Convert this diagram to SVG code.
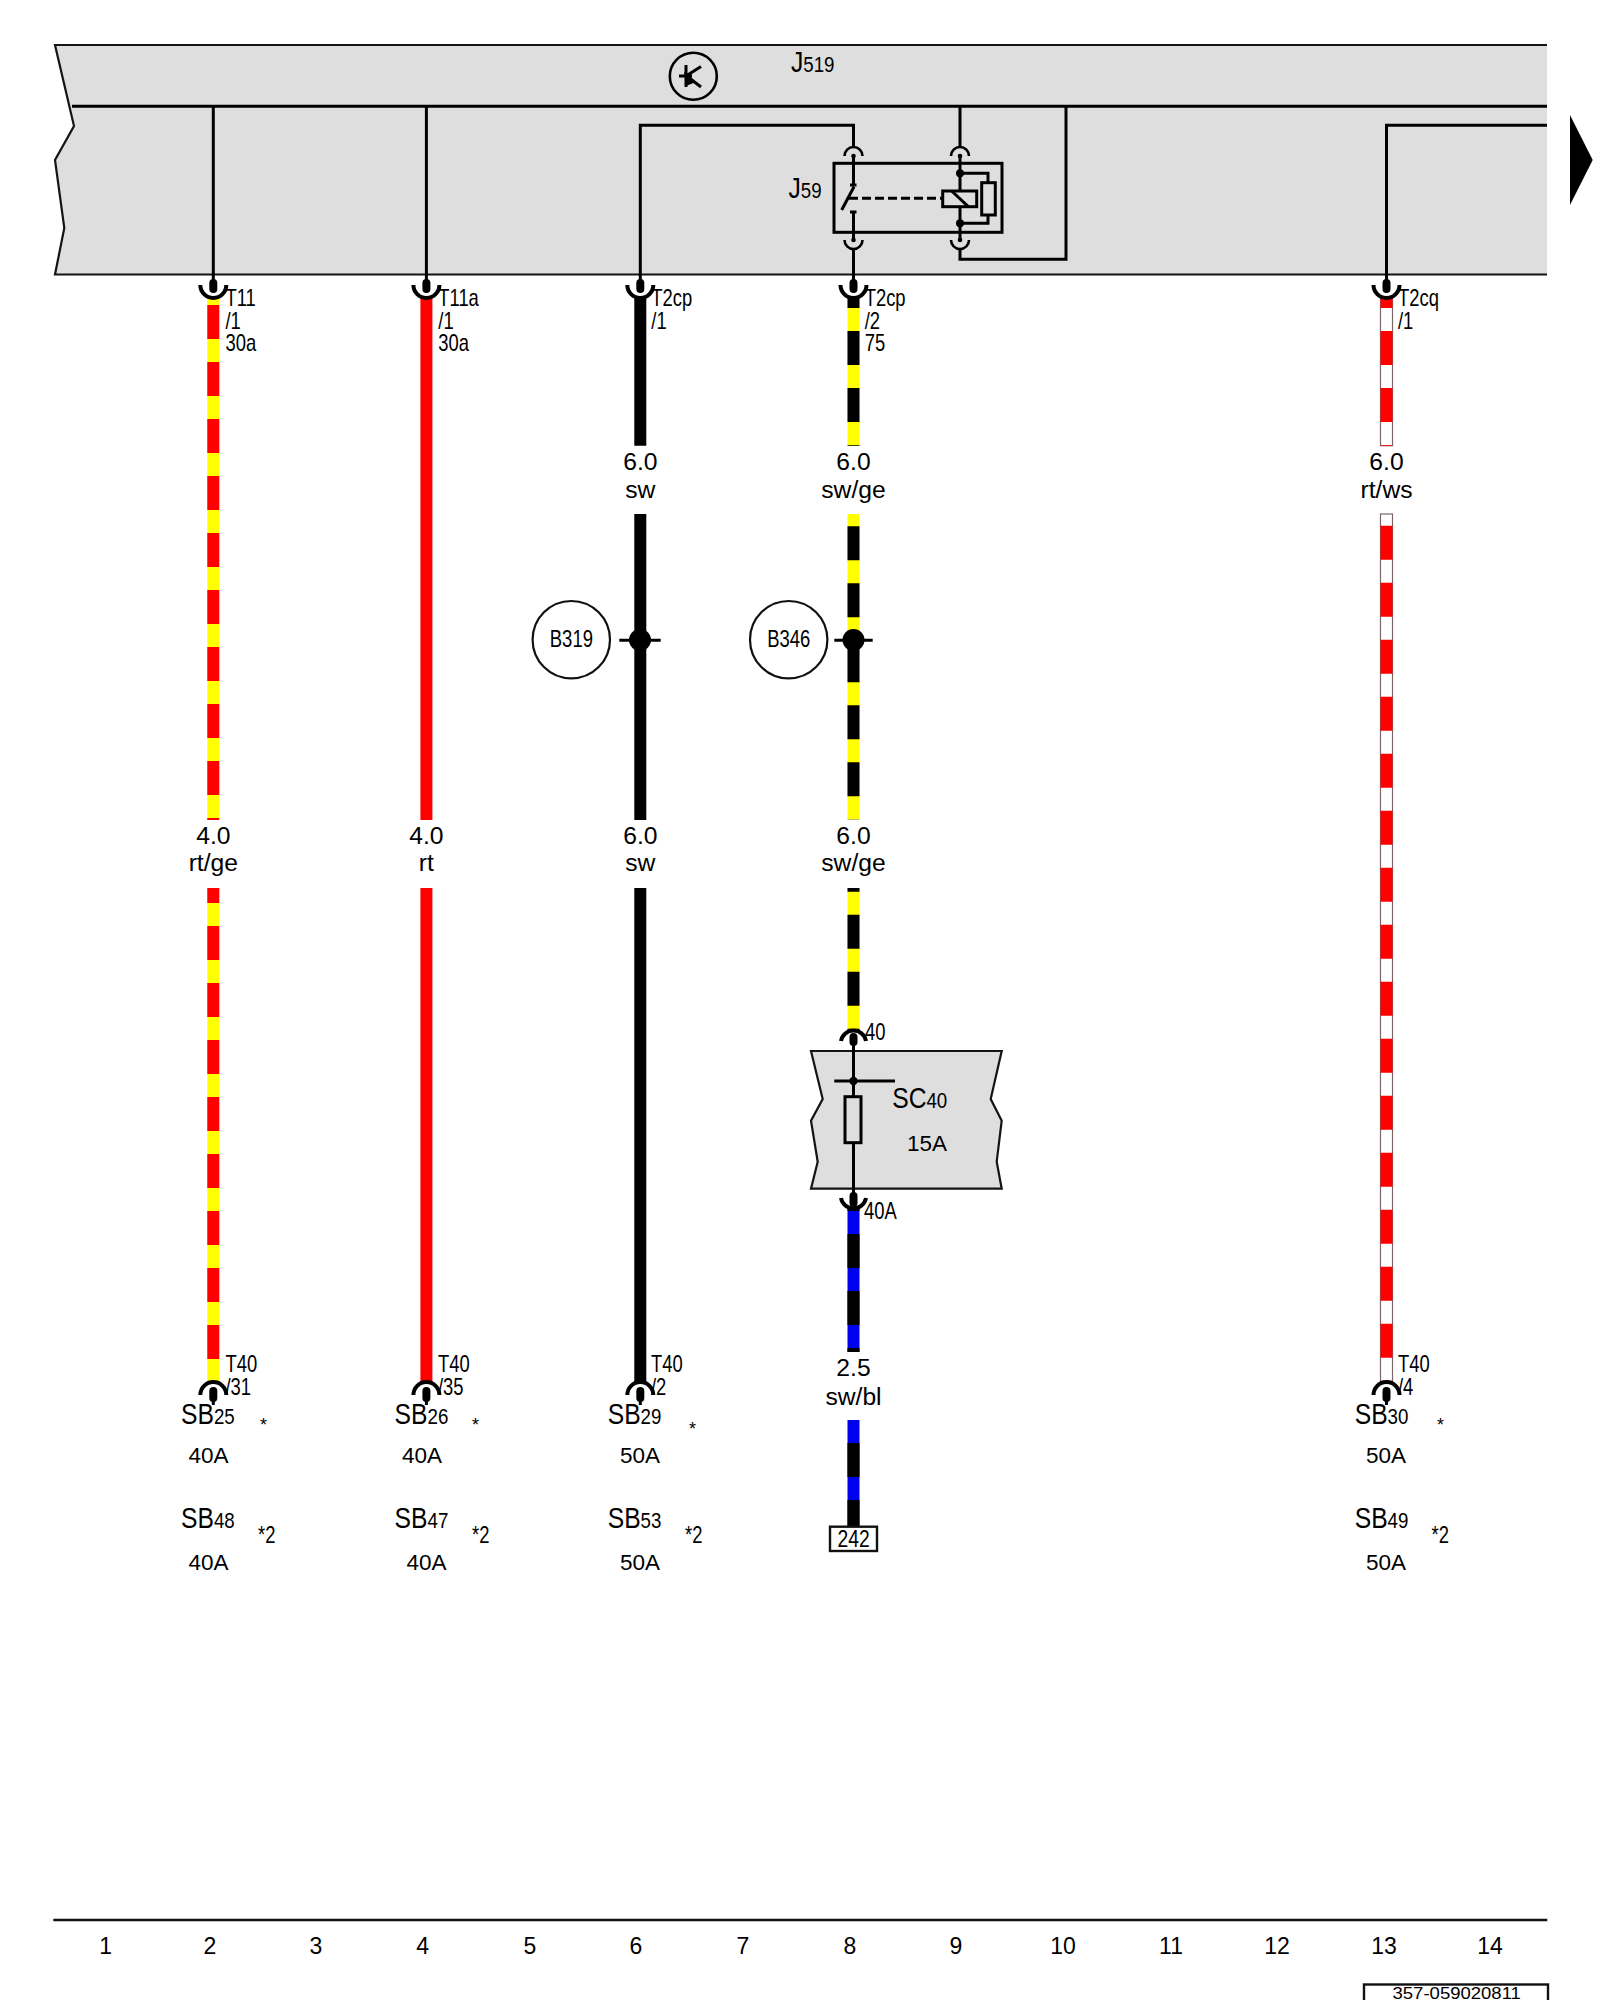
<svg xmlns="http://www.w3.org/2000/svg" xmlns:xlink="http://www.w3.org/1999/xlink" width="1600" height="2000" viewBox="0 0 1600 2000">
<style>
text{font-family:"Liberation Sans",Arial,sans-serif;fill:#000}
.s{font-size:23px}
.d{font-size:22px}
.m{font-size:24px}
.b{font-size:29px}
.w{font-size:23.5px;text-anchor:middle}
.a{font-size:22.5px}
.c{font-size:23px;text-anchor:middle}
.st{font-size:18px}
.zone{fill:#dedede}
.edge{fill:none;stroke:#141414;stroke-width:2.2}
.k{fill:none;stroke:#000;stroke-width:3}
.k2{fill:none;stroke:#000;stroke-width:2.6}
.wire{fill:none;stroke-width:12}
.red{stroke:#fe0000}.yel{stroke:#ffff00}.blk{stroke:#000}.blu{stroke:#0000f0}
.dash{stroke-dasharray:34 23}
.wt{fill:#fff;stroke:#7a6666;stroke-width:1.2}
.dot{fill:#000}
.cup{fill:none;stroke:#000;stroke-width:4}
.pin{stroke:#000;stroke-width:8;stroke-linecap:round;fill:none}
.tail{stroke:#000;stroke-width:3;fill:none}
</style>
<defs>
<g id="cupTop"><path class="cup" d="M-13 -13A13 13 0 0 0 13 -13"/><path class="pin" d="M0 -15V-9"/></g>
<g id="cupBot"><path class="cup" d="M-13 13A13 13 0 0 1 13 13"/><path class="pin" d="M0 9V16"/><path class="tail" d="M0 16V23"/></g>
<g id="cupS1"><path class="k2" d="M-9 9A9 9 0 0 1 9 9"/><circle class="dot" cy="9" r="2.3"/></g>
<g id="cupS2"><path class="k2" d="M-9 -9A9 9 0 0 0 9 -9"/><circle class="dot" cy="-9" r="2.3"/></g>
</defs>
<rect width="1600" height="2000" fill="#fff"/>

<g id="J519">
<path class="zone" d="M55 45H1547V274.5H55L64.3 228 55 160 74 126Z"/>
<path class="edge" d="M1547 45H55L74 126 55 160 64.3 228 55 274.5H1547"/>
<path class="k" d="M72 106.3H1547"/>
<circle cx="693.3" cy="76.3" r="23.5" fill="none" stroke="#000" stroke-width="2.6"/>
<path class="k" d="M686 65V87M679 76H692M686 76L701 66.5M688 77L701 87"/>
<path class="dot" d="M684 72L696 82 686 86Z"/>
<text class="d" transform="translate(791 71.7) scale(.85 1)"><tspan class="b">J</tspan>519</text>
</g>

<g id="connectors">
<path class="k" d="M213.3 106V280M426.4 106V280M640.3 280V125.3H853.5V147M853.5 249V280M960 106V147M960 249V259.3H1066V106M1386.5 280V125.3H1547"/>
<path class="k" d="M853.5 1040V1196"/>
<path class="wire yel" d="M213.3 298V820"/><path class="wire red dash" style="stroke-dashoffset:50" d="M213.3 298V820"/>
<path class="wire yel" d="M213.3 888V1382"/><path class="wire red dash" style="stroke-dashoffset:19" d="M213.3 888V1382"/>
<path class="wire red" d="M426.4 298V820M426.4 888V1382"/>
<path class="wire blk" d="M640.3 298V445.7M640.3 514V820M640.3 888V1382"/>
<path class="wire yel" d="M853.5 298V445.7"/><path class="wire blk dash" style="stroke-dashoffset:24" d="M853.5 298V445.7"/>
<path class="wire yel" d="M853.5 514V640"/><path class="wire blk dash" style="stroke-dashoffset:44.7" d="M853.5 514V640"/>
<path class="wire yel" d="M853.5 640V819.5"/><path class="wire blk dash" style="stroke-dashoffset:48.7" d="M853.5 640V819.5"/>
<path class="wire yel" d="M853.5 888V1030"/><path class="wire blk dash" style="stroke-dashoffset:30.3" d="M853.5 888V1030"/>
<path class="wire blu" d="M853.5 1209V1352"/><path class="wire blk dash" style="stroke-dashoffset:32" d="M853.5 1209V1352"/>
<path class="wire blu" d="M853.5 1420V1527"/><path class="wire blk dash" style="stroke-dashoffset:34" d="M853.5 1420V1527"/>
<rect class="wt" x="1380.5" y="298" width="12" height="147.7"/><path class="wire red dash" style="stroke-dashoffset:24" d="M1386.5 298V445.7"/>
<rect class="wt" x="1380.5" y="514" width="12" height="868"/><path class="wire red dash" style="stroke-dashoffset:45.3" d="M1386.5 514V1382"/>
</g>

<g id="J59">
<rect x="834" y="163.3" width="168" height="69" fill="none" stroke="#000" stroke-width="3"/>
<use xlink:href="#cupS1" href="#cupS1" x="853.5" y="147"/>
<use xlink:href="#cupS1" href="#cupS1" x="960" y="147"/>
<use xlink:href="#cupS2" href="#cupS2" x="853.5" y="249"/>
<use xlink:href="#cupS2" href="#cupS2" x="960" y="249"/>
<path class="k" d="M853.5 156V185M850 185H856.5M841.7 210L854 186.7M850 212H856.5M853.5 212V240M960 156V191M960 206.7V240"/>
<path class="k" stroke-dasharray="9 4" d="M849 198.3H942"/>
<rect x="942.7" y="191" width="34" height="15.7" fill="none" stroke="#000" stroke-width="3"/>
<path class="k" d="M951.7 191L968.3 206.7M960 173.3H988V223.3H960"/>
<rect x="981.7" y="182.7" width="13.6" height="32.3" fill="#dedede" stroke="#000" stroke-width="3"/>
<circle class="dot" cx="960" cy="173.3" r="4"/><circle class="dot" cx="960" cy="223.3" r="4"/>
<text class="d" transform="translate(788.5 197.7) scale(.85 1)"><tspan class="b">J</tspan>59</text>
</g>

<g id="arrow-right"><path d="M1570 115L1592.7 160 1570 205Z" fill="#000"/></g>

<g id="T11-1">
<use xlink:href="#cupTop" href="#cupTop" x="213.3" y="298"/>
<text class="s" transform="translate(225.5 306) scale(.8 1)">T11</text>
<text class="s" transform="translate(225.5 328.7) scale(.8 1)">/1</text>
<text class="s" transform="translate(225.5 351) scale(.8 1)">30a</text>
</g>
<g id="T11a-1">
<use xlink:href="#cupTop" href="#cupTop" x="426.4" y="298"/>
<text class="s" transform="translate(438.3 306) scale(.8 1)">T11a</text>
<text class="s" transform="translate(438.3 328.7) scale(.8 1)">/1</text>
<text class="s" transform="translate(438.3 351) scale(.8 1)">30a</text>
</g>
<g id="T2cp-1">
<use xlink:href="#cupTop" href="#cupTop" x="640.3" y="298"/>
<text class="s" transform="translate(651.3 306) scale(.8 1)">T2cp</text>
<text class="s" transform="translate(651.3 328.7) scale(.8 1)">/1</text>
</g>
<g id="T2cp-2">
<use xlink:href="#cupTop" href="#cupTop" x="853.5" y="298"/>
<text class="s" transform="translate(864.7 306) scale(.8 1)">T2cp</text>
<text class="s" transform="translate(864.7 328.7) scale(.8 1)">/2</text>
<text class="s" transform="translate(864.7 351) scale(.8 1)">75</text>
</g>
<g id="T2cq-1">
<use xlink:href="#cupTop" href="#cupTop" x="1386.5" y="298"/>
<text class="s" transform="translate(1398 306) scale(.8 1)">T2cq</text>
<text class="s" transform="translate(1398 328.7) scale(.8 1)">/1</text>
</g>

<g id="wire-labels">
<text class="w" transform="translate(640.3 470) scale(1.05 1)">6.0</text><text class="w" transform="translate(640.3 498) scale(1.05 1)">sw</text>
<text class="w" transform="translate(853.5 470) scale(1.05 1)">6.0</text><text class="w" transform="translate(853.5 498) scale(1.05 1)">sw/ge</text>
<text class="w" transform="translate(1386.5 470) scale(1.05 1)">6.0</text><text class="w" transform="translate(1386.5 498) scale(1.05 1)">rt/ws</text>
<text class="w" transform="translate(213.3 843.6) scale(1.05 1)">4.0</text><text class="w" transform="translate(213.3 871) scale(1.05 1)">rt/ge</text>
<text class="w" transform="translate(426.4 843.6) scale(1.05 1)">4.0</text><text class="w" transform="translate(426.4 871) scale(1.05 1)">rt</text>
<text class="w" transform="translate(640.3 843.6) scale(1.05 1)">6.0</text><text class="w" transform="translate(640.3 871) scale(1.05 1)">sw</text>
<text class="w" transform="translate(853.5 843.6) scale(1.05 1)">6.0</text><text class="w" transform="translate(853.5 871) scale(1.05 1)">sw/ge</text>
<text class="w" transform="translate(853.5 1376.2) scale(1.05 1)">2.5</text><text class="w" transform="translate(853.5 1405) scale(1.05 1)">sw/bl</text>
</g>

<g id="B319">
<circle cx="571.3" cy="639.7" r="38.7" fill="#fff" stroke="#111" stroke-width="2.2"/>
<text class="m" transform="translate(549.8 647) scale(.77 1)">B319</text>
<circle class="dot" cx="640" cy="640" r="11"/><path class="k" d="M619.3 640.3H660.7"/>
</g>
<g id="B346">
<circle cx="788.7" cy="639.7" r="38.7" fill="#fff" stroke="#111" stroke-width="2.2"/>
<text class="m" transform="translate(767.2 647) scale(.77 1)">B346</text>
<circle class="dot" cx="853.5" cy="640" r="11"/><path class="k" d="M834.3 640.3H872.7"/>
</g>

<g id="SC40">
<path class="zone" d="M811 1051H1001.7L990.7 1099 1001.7 1120.7 996.7 1161.7 1001.7 1188.7H811L817.7 1161.7 811 1120.7 822.7 1099Z"/>
<path class="edge" d="M811 1051H1001.7L990.7 1099 1001.7 1120.7 996.7 1161.7 1001.7 1188.7H811L817.7 1161.7 811 1120.7 822.7 1099Z"/>
<path class="k" d="M853.5 1040V1196M834.3 1081H895"/>
<circle class="dot" cx="853.5" cy="1081" r="4.2"/>
<rect x="845" y="1096.7" width="16" height="46" fill="#dedede" stroke="#000" stroke-width="3"/>
<text class="d" transform="translate(892.2 1108.3) scale(.85 1)"><tspan class="b">SC</tspan>40</text>
<text class="a" x="907" y="1150.7">15A</text>
<path class="cup" d="M841 1041A12.7 12.7 0 0 1 866 1041"/><path class="pin" d="M853.5 1037V1042"/>
<text class="s" transform="translate(865 1040) scale(.8 1)">40</text>
<path class="cup" d="M841 1198A12.7 12.7 0 0 0 866 1198"/><path class="pin" d="M853.5 1196V1203"/>
<text class="s" transform="translate(864 1219) scale(.8 1)">40A</text>
</g>

<g id="node-242">
<rect x="830" y="1526.7" width="47" height="24.3" fill="#fff" stroke="#111" stroke-width="2.4"/>
<text class="s" transform="translate(837.5 1546.5) scale(.84 1)">242</text>
</g>

<g id="T40-31">
<use xlink:href="#cupBot" href="#cupBot" x="213.3" y="1382"/>
<text class="s" transform="translate(225.5 1371.5) scale(.8 1)">T40</text>
<text class="s" transform="translate(225.5 1394.5) scale(.8 1)">/31</text>
</g>
<g id="SB25"><text class="d" transform="translate(181 1424.3) scale(.85 1)"><tspan class="b">SB</tspan>25</text><text class="st" x="260" y="1431">*</text><text class="a" x="188.6" y="1463.3">40A</text></g>
<g id="SB48"><text class="d" transform="translate(181 1527.7) scale(.85 1)"><tspan class="b">SB</tspan>48</text><text class="s" transform="translate(258 1542.5) scale(.8 1)">*2</text><text class="a" x="188.6" y="1570">40A</text></g>

<g id="T40-35">
<use xlink:href="#cupBot" href="#cupBot" x="426.4" y="1382"/>
<text class="s" transform="translate(438 1371.5) scale(.8 1)">T40</text>
<text class="s" transform="translate(438 1394.5) scale(.8 1)">/35</text>
</g>
<g id="SB26"><text class="d" transform="translate(394.6 1424.3) scale(.85 1)"><tspan class="b">SB</tspan>26</text><text class="st" x="472" y="1431">*</text><text class="a" x="402" y="1463.3">40A</text></g>
<g id="SB47"><text class="d" transform="translate(394.6 1527.7) scale(.85 1)"><tspan class="b">SB</tspan>47</text><text class="s" transform="translate(472 1542.5) scale(.8 1)">*2</text><text class="a" x="406.4" y="1570">40A</text></g>

<g id="T40-2">
<use xlink:href="#cupBot" href="#cupBot" x="640.3" y="1382"/>
<text class="s" transform="translate(651 1371.5) scale(.8 1)">T40</text>
<text class="s" transform="translate(651 1394.5) scale(.8 1)">/2</text>
</g>
<g id="SB29"><text class="d" transform="translate(607.7 1424.3) scale(.85 1)"><tspan class="b">SB</tspan>29</text><text class="st" x="689" y="1435">*</text><text class="a" x="620" y="1463.3">50A</text></g>
<g id="SB53"><text class="d" transform="translate(607.7 1527.7) scale(.85 1)"><tspan class="b">SB</tspan>53</text><text class="s" transform="translate(685 1542.5) scale(.8 1)">*2</text><text class="a" x="620" y="1570">50A</text></g>

<g id="T40-4">
<use xlink:href="#cupBot" href="#cupBot" x="1386.5" y="1382"/>
<text class="s" transform="translate(1398 1371.5) scale(.8 1)">T40</text>
<text class="s" transform="translate(1398 1394.5) scale(.8 1)">/4</text>
</g>
<g id="SB30"><text class="d" transform="translate(1354.7 1424.3) scale(.85 1)"><tspan class="b">SB</tspan>30</text><text class="st" x="1437" y="1431">*</text><text class="a" x="1366" y="1463.3">50A</text></g>
<g id="SB49"><text class="d" transform="translate(1354.7 1527.7) scale(.85 1)"><tspan class="b">SB</tspan>49</text><text class="s" transform="translate(1431.5 1542.5) scale(.8 1)">*2</text><text class="a" x="1366" y="1570">50A</text></g>

<g id="footer">
<path d="M53.3 1920H1547.3" fill="none" stroke="#111" stroke-width="2.6"/>
<text class="c" x="105.7" y="1954">1</text><text class="c" x="210" y="1954">2</text><text class="c" x="316" y="1954">3</text><text class="c" x="422.7" y="1954">4</text><text class="c" x="530" y="1954">5</text><text class="c" x="636" y="1954">6</text><text class="c" x="743" y="1954">7</text><text class="c" x="850" y="1954">8</text><text class="c" x="956" y="1954">9</text><text class="c" x="1063" y="1954">10</text><text class="c" x="1171" y="1954">11</text><text class="c" x="1277" y="1954">12</text><text class="c" x="1384" y="1954">13</text><text class="c" x="1490" y="1954">14</text>
<rect x="1364" y="1984.5" width="184" height="40" fill="#fff" stroke="#111" stroke-width="2.4"/>
<text font-size="17" text-anchor="middle" transform="translate(1456.7 1999) scale(1.09 1)">357-059020811</text>
</g>
</svg>
